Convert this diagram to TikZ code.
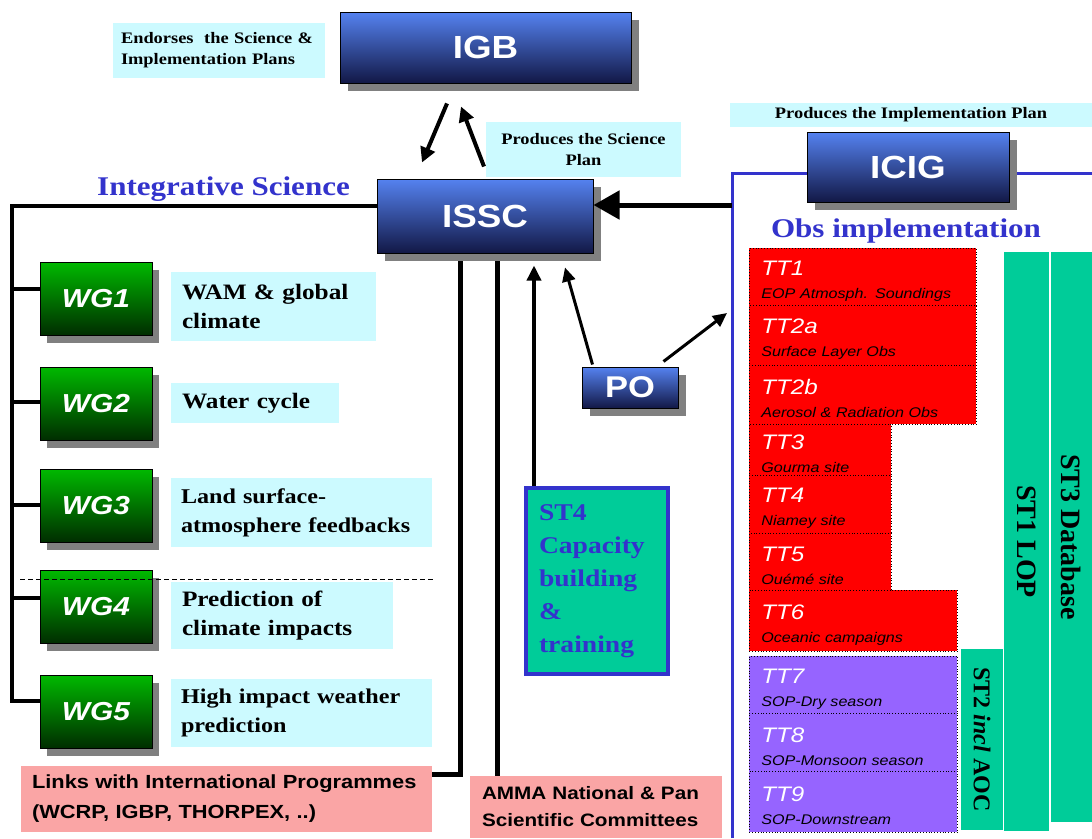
\documentclass[tikz,border=0pt]{standalone}
\usepackage{fontspec}
\setmainfont[FakeStretch=1.15]{Liberation Serif}
\setsansfont[FakeStretch=1.15]{Liberation Sans}
\newfontfamily\rotserif{Liberation Serif}
\usetikzlibrary{arrows.meta,shadows,calc}
\hyphenpenalty=10000
\exhyphenpenalty=10000
\definecolor{cyanlab}{RGB}{204,250,255}
\definecolor{salmon}{RGB}{250,165,165}
\definecolor{ttred}{RGB}{255,0,0}
\definecolor{ttpurple}{RGB}{150,100,255}
\definecolor{stteal}{RGB}{0,204,153}
\definecolor{amblue}{RGB}{51,51,204}
\definecolor{boxtop}{RGB}{85,130,240}
\definecolor{boxbot}{RGB}{18,24,70}
\definecolor{wgtop}{RGB}{0,185,0}
\definecolor{wgbot}{RGB}{0,45,0}
\definecolor{shadowgray}{RGB}{128,128,128}
\newcommand\tthead[1]{\rule{0pt}{23pt}{\fontsize{21}{23}\selectfont\color{white}#1}}
\begin{document}
\begin{tikzpicture}[x=1pt,y=-1pt,
  bluebox/.style={draw=black, line width=1pt, top color=boxtop, bottom color=boxbot,
    general shadow={fill=shadowgray, shadow xshift=8pt, shadow yshift=-8pt},
    text=white, font=\sffamily\bfseries\fontsize{32}{32}\selectfont, inner sep=0pt},
  wgbox/.style={draw=black, line width=1pt, top color=wgtop, bottom color=wgbot,
    general shadow={fill=shadowgray, shadow xshift=7pt, shadow yshift=-8pt},
    text=white, font=\sffamily\bfseries\itshape\fontsize{26}{26}\selectfont,
    inner sep=0pt, minimum width=112pt, minimum height=73pt},
  labelbox/.style={fill=cyanlab, inner sep=0pt},
  wglabel/.style={labelbox, font=\bfseries\fontsize{22}{29}\selectfont, align=left, inner xsep=11pt},
  salbox/.style={fill=salmon, inner ysep=0pt, align=left},
  ttbox/.style={anchor=north west, draw=black, dotted, line width=0.8pt, fill=ttred,
    inner xsep=12pt, inner ysep=0pt, align=left, text=black,
    font=\sffamily\itshape\fontsize{14}{23}\selectfont},
  stcol/.style={fill=stteal, inner sep=0pt, rotate=-90, text=black},
  trunk/.style={line width=4pt, black},
  vline/.style={line width=5pt, black},
  arrA/.style={line width=4pt, -{Triangle[length=15pt,width=15pt]}},
  arrBig/.style={line width=5pt, -{Triangle[length=26pt,width=28pt]}},
  arrC/.style={line width=3.5pt, -{Triangle[length=15pt,width=14pt]}},
  arrD/.style={line width=3pt, -{Triangle[length=14pt,width=13pt]}}
]
\fill[white] (0,0) rectangle (1092,838);
\useasboundingbox (0,0) rectangle (1092,838);

% obs implementation frame
\draw[amblue, line width=3pt] (732,838) -- (732,173) -- (1092,173);
\coordinate (obsin) at (732,205);
\coordinate (obspo) at (727,313);

% main boxes
\node[bluebox, minimum width=291pt, minimum height=71pt] (igb) at (485.5,47.5) {IGB};
\node[bluebox, minimum width=202pt, minimum height=70pt] (icig) at (908,167) {ICIG};

% cyan labels
\node[labelbox, font=\bfseries\fontsize{16}{21}\selectfont, text width=196pt, align=left,
  inner xsep=8pt, minimum width=212pt, minimum height=55pt] (endorse) at (219,50.5)
  {Endorses\ \ the Science \&\\Implementation Plans};
\node[labelbox, font=\bfseries\fontsize{16}{21}\selectfont, align=center,
  minimum width=195pt, minimum height=55pt] (prodsci) at (583.5,149.5)
  {Produces the Science\\Plan};
\node[labelbox, font=\bfseries\fontsize{16}{19}\selectfont,
  minimum width=362pt, minimum height=24pt] (prodimpl) at (911,115)
  {Produces the Implementation Plan};

% titles
\node[text=amblue, font=\bfseries\fontsize{27}{30}\selectfont, anchor=base west, inner sep=0pt]
  (intsci) at (97,195) {Integrative Science};
\node[text=amblue, font=\bfseries\fontsize{27}{30}\selectfont, anchor=base, inner sep=0pt]
  (obsimpl) at (906,237) {Obs implementation};

% salmon boxes
\node[salbox, minimum width=411pt, minimum height=66pt, text width=389pt, inner xsep=11pt,
  font=\sffamily\bfseries\fontsize{19}{30}\selectfont] (links) at (226.5,799)
  {Links with International Programmes\\(WCRP, IGBP, THORPEX, ..)};
\node[salbox, minimum width=252pt, minimum height=62pt, text width=228pt, inner xsep=12pt,
  font=\sffamily\bfseries\fontsize{18}{27}\selectfont] (amma) at (596,807)
  {AMMA National \& Pan\\Scientific Committees};

% ST4
\node[draw=amblue, line width=4pt, fill=stteal, minimum width=142pt, minimum height=186pt,
  text width=116pt, inner xsep=13pt, inner ysep=0pt, align=left, text=amblue,
  font=\bfseries\fontsize{24}{33}\selectfont] (st4) at (597,581)
  {ST4\\Capacity\\building\\\&\\training};

% lines from ISSC
\coordinate (isl) at (460,253);
\coordinate (isr) at (497,253);
\draw[vline] (isl) |- ($(links.north east)+(0,9)$);
\draw[vline] (isr) -- (amma.north -| isr);

% ISSC and PO
\node[bluebox, minimum width=216pt, minimum height=74pt] (issc) at (485,216) {ISSC};
\node[bluebox, minimum width=96pt, minimum height=41pt,
  font=\sffamily\bfseries\fontsize{30}{30}\selectfont] (po) at (630,387.5) {PO};

% WG boxes
\node[wgbox] (wg1) at (96,298.5) {WG1};
\node[wgbox] (wg2) at (96,403.5) {WG2};
\node[wgbox] (wg3) at (96,505.5) {WG3};
\node[wgbox] (wg4) at (96,606.5) {WG4};
\node[wgbox] (wg5) at (96,711.5) {WG5};

\node[wglabel, minimum width=205pt, minimum height=69pt, text width=183pt] (wl1) at (273.5,306.5) {WAM \& global\\climate};
\node[wglabel, minimum width=168pt, minimum height=40pt, text width=146pt] (wl2) at (255,403) {Water cycle};
\node[wglabel, minimum width=261pt, minimum height=69pt, text width=247pt, inner xsep=7pt,
  font=\bfseries\fontsize{21}{29}\selectfont] (wl3) at (301.5,512.5) {\hspace*{3pt}Land surface-\\\hspace*{3pt}atmosphere feedbacks};
\node[wglabel, minimum width=222pt, minimum height=67pt, text width=200pt] (wl4) at (282,615.5) {Prediction of\\climate impacts};
\node[wglabel, minimum width=261pt, minimum height=68pt, text width=247pt, inner xsep=7pt,
  font=\bfseries\fontsize{21}{29}\selectfont] (wl5) at (301.5,713) {\hspace*{3pt}High impact weather\\\hspace*{3pt}prediction};

% trunk
\coordinate (trunktop) at (12,206);
\coordinate (trunkbot) at (12,701);
\coordinate (t1) at (12,289);
\coordinate (t2) at (12,402);
\coordinate (t3) at (12,505);
\coordinate (t4) at (12,598);
\draw[trunk] ($(issc.west)+(0,-10)$) -- (trunktop) -- (trunkbot) -- (wg5.west |- trunkbot);
\draw[trunk] (t1) -- (wg1.west |- t1);
\draw[trunk] (t2) -- (wg2.west |- t2);
\draw[trunk] (t3) -- (wg3.west |- t3);
\draw[trunk] (t4) -- (wg4.west |- t4);

\draw[dashed, line width=0.8pt, dash pattern=on 5pt off 3pt] (20,579) -- (433,579);

% TT boxes
\node[ttbox, minimum width=227pt, minimum height=57pt, text width=203pt] (tt1) at (749,248) {\tthead{TT1}\\EOP Atmosph. Soundings};
\node[ttbox, minimum width=227pt, minimum height=60pt, text width=203pt] (tt2a) at (749,305) {\tthead{TT2a}\\Surface Layer Obs};
\node[ttbox, minimum width=227pt, minimum height=59pt, text width=203pt] (tt2b) at (749,365) {\tthead{TT2b}\\Aerosol \& Radiation Obs};
\node[ttbox, minimum width=142pt, minimum height=51pt, text width=118pt] (tt3) at (749,424) {\tthead{TT3}\\Gourma site};
\node[ttbox, minimum width=142pt, minimum height=58pt, text width=118pt] (tt4) at (749,475) {\tthead{TT4}\\Niamey site};
\node[ttbox, minimum width=142pt, minimum height=57pt, text width=118pt] (tt5) at (749,533) {\tthead{TT5}\\Ouémé site};
\node[ttbox, minimum width=208pt, minimum height=61pt, text width=184pt] (tt6) at (749,590) {\tthead{TT6}\\Oceanic campaigns};
\node[ttbox, fill=ttpurple, minimum width=208pt, minimum height=57pt, text width=184pt] (tt7) at (749,656) {\tthead{TT7}\\SOP-Dry season};
\node[ttbox, fill=ttpurple, minimum width=208pt, minimum height=58pt, text width=184pt] (tt8) at (749,713) {\tthead{TT8}\\SOP-Monsoon season};
\node[ttbox, fill=ttpurple, minimum width=208pt, minimum height=61pt, text width=184pt] (tt9) at (749,771) {\tthead{TT9}\\SOP-Downstream};

% ST columns
\node[stcol, minimum width=181pt, minimum height=42pt, font=\rotserif\bfseries\fontsize{24}{24}\selectfont] (st2) at (982,739.5) {ST2 \textit{incl} AOC};
\node[stcol, minimum width=579pt, minimum height=45pt, font=\rotserif\bfseries\fontsize{28}{28}\selectfont] (st1) at (1026.5,541.5) {ST1 LOP};
\node[stcol, minimum width=570pt, minimum height=41pt, font=\rotserif\bfseries\fontsize{28}{28}\selectfont] (st3) at (1071.5,537) {ST3 Database};

% arrows
\draw[arrA] ($(igb.south)+(-38.5,20)$) -- ($(issc.north)+(-63,-16)$);
\draw[arrA] ($(issc.north)+(-1,-12)$) -- ($(igb.south)+(-24.5,23)$);
\draw[arrBig] (obsin) -- (issc.east |- obsin);
\coordinate (st4top) at ($(st4.north west)+(10,0)$);
\coordinate (isscbot) at ($(issc.south)+(0,12)$);
\draw[arrC] (st4top) -- (st4top |- isscbot);
\draw[arrD] ($(po.north west)+(11,-2)$) -- ($(issc.south)+(80,14)$);
\draw[arrD] ($(po.north east)+(-15,-5)$) -- (obspo);
\end{tikzpicture}
\end{document}
